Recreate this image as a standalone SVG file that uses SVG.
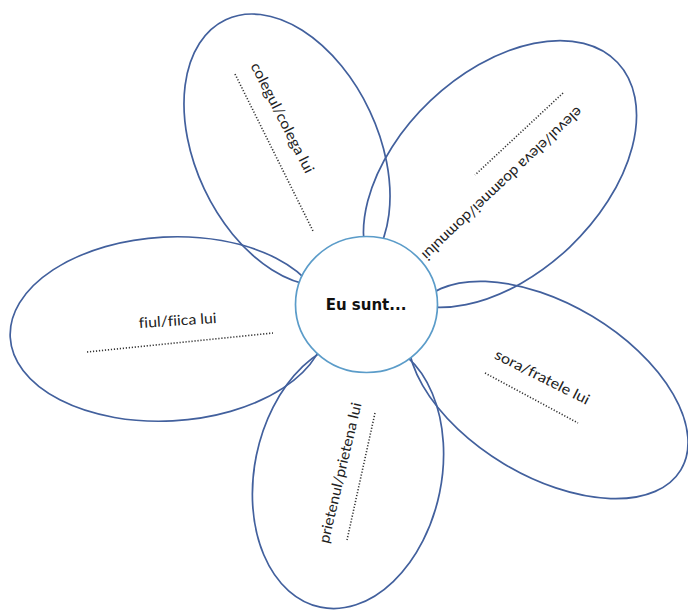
<svg xmlns="http://www.w3.org/2000/svg" width="688" height="610" viewBox="0 0 688 610">
<style>
.petal{fill:none;stroke:#42609d;stroke-width:1.7}
.core{fill:#ffffff;stroke:#5b9cc9;stroke-width:1.7}
.lbl{font-family:Lato,"Open Sans","Liberation Sans",sans-serif;font-size:14.5px;fill:#222;text-anchor:middle;font-variant-ligatures:none}
.dots{stroke:#333;stroke-width:1.6;stroke-dasharray:1.2 1.8;fill:none}
.ctr{font-family:"DejaVu Sans","Liberation Sans",sans-serif;font-weight:bold;font-size:15px;fill:#111;text-anchor:middle}
</style>
<rect width="688" height="610" fill="#ffffff"/>
<g id="connectors"></g>
<g id="petal-colegul">
<ellipse class="petal" cx="287" cy="150" rx="144" ry="91.5" transform="rotate(64.8 287 150)"/>
<text class="lbl" x="278" y="120" textLength="122" lengthAdjust="spacingAndGlyphs" transform="rotate(63 278 120)">colegul/colega lui</text>
<line class="dots" x1="235" y1="74" x2="313" y2="231"/>
</g>
<g id="petal-elevul">
<ellipse class="petal" cx="500" cy="174" rx="162" ry="101" transform="rotate(-43.5 500 174)"/>
<text class="lbl" x="499" y="180" textLength="215" lengthAdjust="spacingAndGlyphs" transform="rotate(136.5 499 180)">elevul/eleva doamnei/domnului</text>
<line class="dots" x1="563" y1="93" x2="475" y2="175"/>
</g>
<g id="petal-fiul">
<ellipse class="petal" cx="168" cy="329" rx="158" ry="92" transform="rotate(-3 168 329)"/>
<text class="lbl" x="178" y="325.5" textLength="78" lengthAdjust="spacingAndGlyphs" transform="rotate(-3.7 178 325.5)">fiul/fiica lui</text>
<line class="dots" x1="87" y1="352" x2="273" y2="333"/>
</g>
<g id="petal-sora">
<ellipse class="petal" cx="548" cy="390" rx="155" ry="86" transform="rotate(31 548 390)"/>
<text class="lbl" x="540" y="381.5" textLength="104" lengthAdjust="spacingAndGlyphs" transform="rotate(26.8 540 381.5)">sora/fratele lui</text>
<line class="dots" x1="485" y1="373" x2="578" y2="423"/>
</g>
<g id="petal-prietenul">
<ellipse class="petal" cx="348" cy="474" rx="136" ry="93.5" transform="rotate(-78.3 348 474)"/>
<text class="lbl" x="345" y="474" textLength="144" lengthAdjust="spacingAndGlyphs" transform="rotate(-76.7 345 474)">prietenul/prietena lui</text>
<line class="dots" x1="375" y1="413" x2="347" y2="540"/>
</g>
<g id="center">
<ellipse class="core" cx="366.5" cy="304.5" rx="71" ry="68"/>
<text class="ctr" x="366" y="310">Eu sunt...</text>
</g>
</svg>
